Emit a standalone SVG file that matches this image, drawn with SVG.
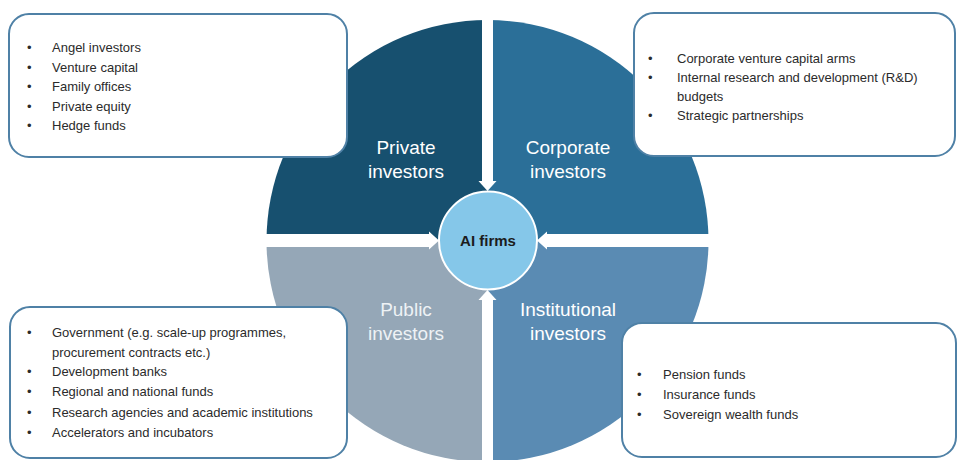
<svg xmlns="http://www.w3.org/2000/svg" width="958" height="460" viewBox="0 0 958 460">
<defs>
<style>
.q{font-family:"Liberation Sans",Arial,sans-serif;font-size:19px;fill:#ffffff;text-anchor:middle}
.q2{font-family:"Liberation Sans",Arial,sans-serif;font-size:19px;fill:#eef2f5;text-anchor:middle}
.box{fill:#ffffff;stroke:#4f81a6;stroke-width:2}
.t{font-family:"Liberation Sans",Arial,sans-serif;font-size:13px;fill:#2b2b2b}
.cv{stroke:#ffffff;stroke-width:11;fill:none}
.ch{stroke:#ffffff;stroke-width:13;fill:none}
</style>
<marker id="ah" markerUnits="userSpaceOnUse" markerWidth="12" markerHeight="20" refX="0" refY="9" orient="auto" viewBox="0 0 12 18" overflow="visible">
<path d="M0,0 L10,9 L0,18 Z" fill="#ffffff"/>
</marker>
</defs>
<rect width="958" height="460" fill="#ffffff"/>

<g id="private">
<path d="M487.5,241 L487.5,20 A221,221 0 0 0 266.5,241 Z" fill="#17506f"/>
<text class="q" x="406" y="154">Private</text>
<text class="q" x="406" y="178">investors</text>
</g>
<g id="corporate">
<path d="M487.5,241 L708.5,241 A221,221 0 0 0 487.5,20 Z" fill="#2b6f98"/>
<text class="q" x="568" y="154">Corporate</text>
<text class="q" x="568" y="178">investors</text>
</g>
<g id="public">
<path d="M487.5,241 L266.5,241 A221,221 0 0 0 487.5,462 Z" fill="#95a7b7"/>
<text class="q2" x="406" y="316">Public</text>
<text class="q2" x="406" y="340">investors</text>
</g>
<g id="institutional">
<path d="M487.5,241 L487.5,462 A221,221 0 0 0 708.5,241 Z" fill="#5a8bb3"/>
<text class="q" x="568" y="316">Institutional</text>
<text class="q" x="568" y="340">investors</text>
</g>

<g id="connectors">
<line class="cv" x1="487.5" y1="14" x2="487.5" y2="181" marker-end="url(#ah)"/>
<line class="cv" x1="487.5" y1="466" x2="487.5" y2="300" marker-end="url(#ah)"/>
<line class="ch" x1="260" y1="240.5" x2="429" y2="240.5" marker-end="url(#ah)"/>
<line class="ch" x1="715" y1="240.5" x2="547" y2="240.5" marker-end="url(#ah)"/>
</g>

<g id="ai-firms">
<circle cx="488" cy="240.5" r="49" fill="#85c7e9" stroke="#ffffff" stroke-width="2"/>
<text x="488" y="245.5" font-family="'Liberation Sans',Arial,sans-serif" font-size="15" font-weight="bold" fill="#1c1c1c" text-anchor="middle">AI firms</text>
</g>

<g id="box-private">
<rect class="box" x="9" y="14" width="338" height="143" rx="20"/>
<text class="t" x="27" y="52">•</text><text class="t" x="52" y="52">Angel investors</text>
<text class="t" x="27" y="72">•</text><text class="t" x="52" y="72">Venture capital</text>
<text class="t" x="27" y="91">•</text><text class="t" x="52" y="91">Family offices</text>
<text class="t" x="27" y="111">•</text><text class="t" x="52" y="111">Private equity</text>
<text class="t" x="27" y="130">•</text><text class="t" x="52" y="130">Hedge funds</text>
</g>

<g id="box-corporate">
<rect class="box" x="634" y="13" width="321" height="143" rx="20"/>
<text class="t" x="648" y="63">•</text><text class="t" x="677" y="63">Corporate venture capital arms</text>
<text class="t" x="648" y="82">•</text><text class="t" x="677" y="82">Internal research and development (R&amp;D)</text>
<text class="t" x="677" y="101">budgets</text>
<text class="t" x="648" y="120">•</text><text class="t" x="677" y="120">Strategic partnerships</text>
</g>

<g id="box-public">
<rect class="box" x="10" y="307" width="337" height="151" rx="20"/>
<text class="t" x="27" y="337">•</text><text class="t" x="52" y="337">Government (e.g. scale-up programmes,</text>
<text class="t" x="52" y="357">procurement contracts etc.)</text>
<text class="t" x="27" y="376">•</text><text class="t" x="52" y="376">Development banks</text>
<text class="t" x="27" y="396">•</text><text class="t" x="52" y="396">Regional and national funds</text>
<text class="t" x="27" y="417">•</text><text class="t" x="52" y="417">Research agencies and academic institutions</text>
<text class="t" x="27" y="437">•</text><text class="t" x="52" y="437">Accelerators and incubators</text>
</g>

<g id="box-institutional">
<rect class="box" x="622" y="323" width="334" height="134" rx="20"/>
<text class="t" x="637" y="379">•</text><text class="t" x="663" y="379">Pension funds</text>
<text class="t" x="637" y="399">•</text><text class="t" x="663" y="399">Insurance funds</text>
<text class="t" x="637" y="419">•</text><text class="t" x="663" y="419">Sovereign wealth funds</text>
</g>
</svg>
